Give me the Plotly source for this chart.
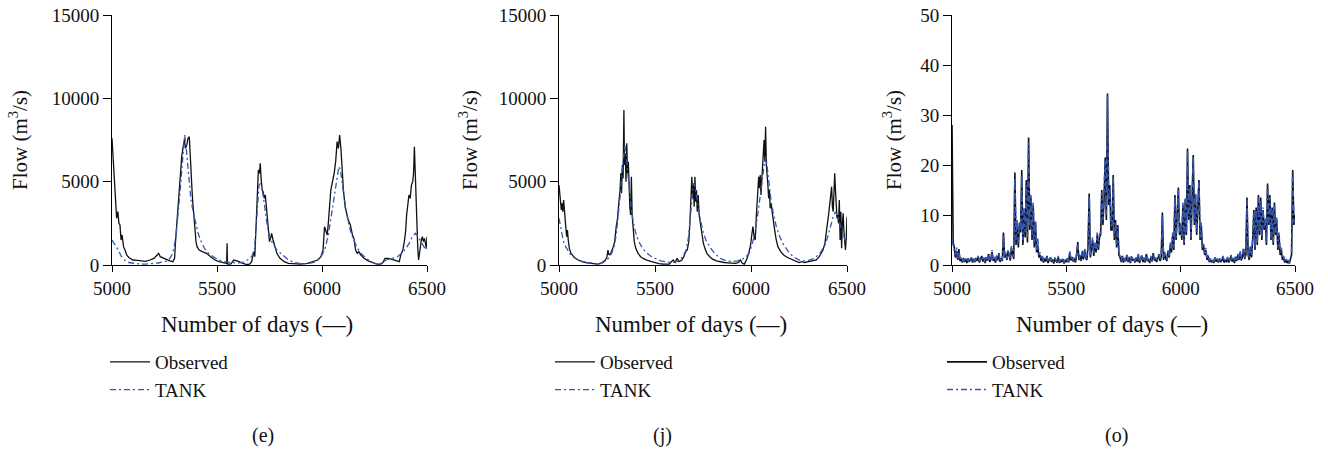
import plotly.graph_objects as go

# ---------------- Panel (e) ----------------
e_obs_days = [5000, 5005, 5012, 5018, 5022, 5028, 5033, 5038, 5043, 5048, 5055, 5062, 5070, 5080, 5090,
              5100, 5120, 5140, 5160, 5180, 5200, 5215, 5222, 5230, 5245, 5260, 5275, 5290, 5298, 5303,
              5310, 5318, 5325, 5332, 5340, 5345, 5350, 5356, 5362, 5368, 5373, 5377, 5381, 5385, 5390,
              5395, 5400, 5405, 5415, 5430, 5450, 5470, 5490, 5510, 5530, 5546, 5548, 5550, 5565, 5580,
              5595, 5610, 5625, 5640, 5655, 5665, 5675, 5680, 5686, 5692, 5697, 5702, 5706, 5710, 5715,
              5720, 5725, 5730, 5735, 5740, 5745, 5750, 5755, 5760, 5767, 5775, 5785, 5800, 5820, 5840,
              5870, 5900, 5930, 5960, 5980, 5995, 6005, 6012, 6018, 6025, 6030, 6036, 6042, 6050, 6058,
              6065, 6072, 6078, 6084, 6090, 6096, 6102, 6110, 6118, 6125, 6135, 6145, 6152, 6160, 6168,
              6175, 6185, 6200, 6220, 6240, 6260, 6280, 6290, 6300, 6315, 6330, 6345, 6360, 6368, 6375,
              6385, 6392, 6398, 6403, 6408, 6414, 6420, 6426, 6432, 6436, 6440, 6444, 6448, 6452, 6456,
              6460, 6464, 6468, 6473, 6478, 6483, 6488, 6493, 6497, 6500]
e_obs_vals = [7600, 6500, 5000, 3500, 2800, 3200, 2500, 2400, 1500, 1800, 1100, 900, 600, 450, 350,
              300, 280, 250, 220, 300, 400, 600, 700, 500, 400, 300, 250, 200, 400, 1500,
              2800, 4000, 5000, 6500, 7200, 7500, 7000, 7200, 7600, 7700, 6500, 5000, 4500, 3700, 2800,
              1900, 1400, 1100, 900, 800, 700, 500, 300, 200, 150, 100, 1300, 50, 50, 300,
              250, 150, 100, 30, 50, 200, 800, 500, 2500, 4500, 5700, 5500, 6100, 5200, 4500,
              4400, 4000, 4200, 3500, 2500, 1800, 1400, 1600, 1900, 1500, 1100, 700, 400, 200, 100,
              80, 50, 100, 200, 300, 500, 900, 2300, 2100, 1800, 2500, 3500, 4500, 5000, 5500,
              6200, 7400, 7000, 7800, 7000, 5500, 4500, 3500, 3000, 2700, 2400, 1800, 1600, 900, 700,
              800, 600, 400, 250, 150, 50, 50, 150, 400, 400, 350, 300, 250, 200, 600,
              900, 1400, 2000, 3000, 3800, 4200, 4000, 4800, 5000, 5500, 7100, 5500, 3500, 2000, 1000,
              300, 800, 1300, 1500, 1700, 1400, 1600, 1300, 1000, 1700]

e_tank_days = [5000, 5015, 5030, 5045, 5060, 5080, 5100, 5130, 5160, 5190, 5220, 5250, 5270, 5285, 5295,
               5305, 5315, 5325, 5333, 5340, 5346, 5352, 5360, 5368, 5376, 5385, 5395, 5410, 5425, 5440,
               5460, 5480, 5500, 5530, 5560, 5590, 5620, 5645, 5665, 5678, 5686, 5693, 5700, 5708, 5716,
               5724, 5732, 5740, 5750, 5765, 5785, 5810, 5840, 5870, 5900, 5930, 5960, 5985, 6000, 6015,
               6030, 6045, 6058, 6070, 6080, 6088, 6096, 6105, 6115, 6130, 6145, 6165, 6185, 6210, 6240,
               6265, 6285, 6305, 6330, 6355, 6380, 6400, 6415, 6430, 6445, 6458, 6470, 6485, 6495, 6500]
e_tank_vals = [1500, 1200, 900, 500, 300, 150, 100, 60, 50, 80, 120, 200, 300, 600, 1000,
               1800, 3000, 4500, 5800, 7000, 7800, 7200, 6200, 5000, 3900, 3300, 2700, 1900, 1400, 1000,
               700, 500, 350, 200, 150, 120, 150, 300, 500, 900, 2200, 3800, 4800, 4900, 4500,
               3800, 3000, 2300, 1700, 1300, 900, 600, 300, 150, 80, 80, 150, 350, 600, 1000,
               1800, 3000, 4200, 5300, 5900, 5700, 5000, 4000, 3200, 2300, 1700, 1100, 700, 400, 150,
               50, 100, 300, 400, 450, 700, 1000, 1300, 1700, 1900, 1700, 1400, 1100, 900, 1200]

# ---------------- Panel (j) ----------------
j_obs_days = [5000, 5004, 5008, 5012, 5016, 5020, 5024, 5028, 5032, 5036, 5040, 5044, 5048, 5054, 5062,
              5072, 5085, 5100, 5120, 5140, 5160, 5180, 5200, 5215, 5230, 5242, 5250, 5255, 5260, 5270,
              5280, 5290, 5298, 5305, 5312, 5318, 5322, 5326, 5330, 5334, 5338, 5341, 5345, 5349, 5353,
              5357, 5361, 5365, 5369, 5373, 5377, 5381, 5386, 5392, 5400, 5412, 5425, 5440, 5460, 5480,
              5500, 5520, 5540, 5560, 5575, 5585, 5595, 5605, 5615, 5625, 5640, 5650, 5660, 5668, 5676,
              5682, 5688, 5692, 5696, 5700, 5704, 5708, 5712, 5716, 5720, 5725, 5730, 5736, 5744, 5752,
              5760, 5770, 5785, 5800, 5820, 5840, 5860, 5880, 5900, 5920, 5935, 5945, 5955, 5965, 5972,
              5980, 5990, 5998, 6004, 6010, 6016, 6022, 6028, 6034, 6040, 6044, 6048, 6052, 6056, 6060,
              6064, 6068, 6072, 6076, 6080, 6084, 6088, 6092, 6096, 6100, 6105, 6110, 6116, 6122, 6130,
              6140, 6155, 6170, 6190, 6210, 6230, 6250, 6265, 6280, 6300, 6320, 6340, 6355, 6365, 6375,
              6385, 6392, 6398, 6404, 6410, 6415, 6420, 6424, 6428, 6432, 6436, 6440, 6444, 6448, 6452,
              6456, 6460, 6464, 6468, 6472, 6476, 6480, 6484, 6488, 6492, 6496, 6500]
j_obs_vals = [4800, 4200, 4000, 3300, 3700, 3200, 3900, 3100, 2800, 2200, 1700, 2100, 1500, 1000, 700,
              550, 400, 300, 200, 150, 100, 80, 50, 80, 200, 300, 500, 900, 600, 700,
              1000, 1400, 2300, 2800, 3800, 4500, 5500, 4300, 6000, 5200, 9300, 6000, 6700, 5000, 7300,
              5500, 6200, 4600, 3500, 3000, 5300, 3000, 2000, 1400, 1000, 700, 500, 380, 280, 200,
              120, 80, 60, 40, 50, 200, 300, 150, 400, 200, 300, 500, 800, 900, 1400,
              2600, 3800, 5300, 4000, 4800, 3500, 5300, 3800, 4500, 3200, 4200, 3000, 2500, 1800, 1300,
              1000, 700, 500, 350, 250, 180, 150, 130, 120, 100, 150, 300, 100, 50, 200,
              400, 800, 1200, 1800, 2300, 1700, 1500, 3000, 4200, 5300, 4600, 5400, 4200, 5000, 6000,
              6500, 7500, 6200, 8300, 6000, 5500, 4800, 4000, 4500, 3400, 3700, 3200, 2800, 2200, 1600,
              1100, 800, 600, 450, 350, 250, 150, 200, 150, 200, 250, 300, 500, 700, 900,
              1300, 1800, 2500, 3000, 3600, 4200, 4700, 3500, 3200, 4300, 5500, 4500, 3800, 2800, 3000,
              2500, 3900, 1500, 3200, 1000, 2500, 3100, 2000, 1500, 900, 1600, 2900]

j_tank_days = [5000, 5010, 5020, 5030, 5040, 5055, 5070, 5090, 5110, 5140, 5170, 5200, 5225, 5250, 5270,
               5285, 5298, 5310, 5320, 5330, 5338, 5343, 5350, 5358, 5366, 5375, 5385, 5398, 5412, 5430,
               5450, 5475, 5500, 5530, 5560, 5590, 5620, 5645, 5662, 5675, 5685, 5693, 5700, 5707, 5715,
               5725, 5735, 5748, 5765, 5785, 5810, 5840, 5870, 5900, 5930, 5955, 5975, 5990, 6005, 6020,
               6035, 6050, 6062, 6072, 6078, 6086, 6095, 6105, 6118, 6132, 6150, 6170, 6195, 6220, 6250,
               6280, 6310, 6340, 6365, 6385, 6400, 6415, 6428, 6440, 6452, 6465, 6478, 6490, 6500]
j_tank_vals = [2800, 2100, 1600, 1200, 1000, 700, 500, 350, 250, 150, 100, 80, 120, 300, 600,
               1000, 1800, 3000, 4300, 5800, 7000, 7200, 6500, 5500, 4400, 3500, 2700, 2000, 1500, 1100,
               800, 550, 400, 250, 180, 150, 250, 500, 900, 1700, 3000, 4200, 4900, 4800, 4300,
               3500, 2800, 2100, 1500, 1100, 700, 400, 250, 200, 250, 350, 500, 700, 1200, 1900,
               3000, 4300, 5500, 6300, 6500, 5700, 4700, 3800, 3000, 2300, 1700, 1200, 800, 500, 300,
               250, 300, 500, 800, 1200, 1700, 2300, 2900, 3200, 2900, 2400, 1900, 1500, 1300]

# ---------------- Panel (o) ----------------
o_days = list(range(5000, 6501, 5))
o_obs_vals = [
    28, 4.5, 3.5, 1.5, 2.8, 1.0, 3.2, 0.8, 1.2, 0.5, 1.4, 0.6, 1.1, 0.4, 1.3, 0.7, 0.9, 1.5, 0.5, 1.2,
    0.6, 1.4, 0.8, 1.6, 0.5, 1.0, 1.8, 0.7, 1.2, 0.4, 1.5, 0.9, 2.2, 0.6, 1.1, 2.6, 0.8, 1.3, 0.5, 1.7,
    0.9, 2.4, 0.6, 1.3, 0.8, 6.5, 1.5, 2.2, 1.0, 2.8, 1.6, 0.9, 3.4, 2.0, 1.2, 18.5, 4.0, 8.5, 3.5, 8.0,
    6.5, 19.0, 4.0, 10.5, 5.5, 17.0, 4.5, 25.5, 7.0, 13.5, 5.0, 12.0, 3.5, 8.5, 2.5, 4.0, 1.5, 2.0, 0.8, 1.6,
    0.5, 1.2, 0.7, 1.8, 0.4, 1.0, 1.5, 0.6, 1.1, 0.3, 1.3, 0.8, 0.5, 1.6, 0.4, 1.0, 0.6, 1.2, 0.3, 0.9,
    0.6, 1.3, 0.5, 2.5, 0.9, 1.6, 0.7, 1.2, 0.5, 2.0, 4.6, 1.0, 1.8, 0.8, 2.6, 1.1, 3.0, 1.4, 1.0, 4.0,
    14.3, 1.5, 3.0, 5.0, 1.8, 4.0, 2.5, 6.0, 3.0, 5.5, 6.0, 15.0, 8.0, 13.0, 21.5, 9.0, 34.3, 12.0, 16.0, 7.0,
    7.0, 18.0, 5.0, 9.0, 3.5, 8.0, 2.0, 1.5, 0.6, 1.8, 0.5, 1.2, 0.8, 2.0, 0.6, 1.4, 0.4, 1.7, 0.9, 1.2,
    0.5, 1.5, 0.7, 2.0, 0.4, 1.1, 1.8, 0.6, 1.3, 0.5, 2.2, 0.8, 1.0, 0.4, 1.6, 0.7, 2.4, 0.9, 1.3, 0.6,
    1.2, 2.0, 0.8, 1.5, 10.5, 1.0, 2.5, 1.2, 0.8, 2.8, 1.5, 4.0, 2.5, 6.0, 3.0, 14.0, 5.0, 9.0, 15.5, 6.0,
    8.0, 5.0, 12.0, 4.0, 13.0, 6.0, 23.3, 9.0, 16.0, 5.0, 12.0, 22.0, 8.0, 14.0, 6.0, 11.0, 17.0, 5.0, 8.0, 3.0,
    4.0, 2.0, 3.0, 1.0, 1.8, 0.6, 1.2, 0.5, 1.0, 0.4, 1.5, 0.7, 1.1, 0.5, 1.3, 0.6, 0.9, 1.6, 0.5, 1.0,
    0.6, 1.4, 0.5, 1.0, 1.8, 0.7, 1.2, 0.4, 1.5, 0.8, 2.0, 1.0, 2.5, 0.9, 1.6, 3.2, 1.2, 2.0, 13.5, 2.0,
    1.0, 3.5, 1.5, 5.0, 11.0, 3.0, 11.5, 4.0, 14.0, 6.0, 13.5, 5.0, 11.0, 7.0, 9.0, 4.0, 16.3, 8.0, 14.0, 5.0,
    11.5, 4.0, 12.5, 6.0, 9.0, 3.0, 6.0, 2.0, 3.0, 1.0, 1.5, 0.5, 1.0, 0.4, 0.8, 0.3, 1.2, 2.0, 19.0, 8.0,
    10.0]
o_tank_vals = [
    5.0, 4.0, 3.0, 2.0, 3.5, 1.2, 2.6, 1.0, 1.5, 0.7, 1.2, 0.8, 1.4, 0.6, 1.0, 0.9, 1.2, 1.3, 0.7, 1.5,
    0.8, 1.2, 1.0, 1.9, 0.7, 1.3, 1.6, 0.9, 1.5, 0.6, 1.8, 1.1, 2.0, 0.8, 1.4, 3.0, 1.0, 1.6, 0.7, 1.9,
    1.1, 2.2, 0.8, 1.6, 1.0, 6.0, 1.8, 2.6, 1.3, 3.0, 1.9, 1.2, 3.8, 2.4, 1.6, 17.5, 5.0, 9.0, 4.5, 8.8,
    7.0, 18.0, 5.0, 11.5, 6.5, 16.0, 5.5, 24.5, 8.0, 14.0, 6.0, 12.5, 4.5, 9.0, 3.0, 5.5, 2.0, 2.5, 1.2, 1.8,
    0.8, 1.4, 0.9, 1.6, 0.6, 1.2, 1.7, 0.8, 1.3, 0.6, 1.5, 1.0, 0.7, 1.8, 0.6, 1.2, 0.8, 1.4, 0.5, 1.1,
    0.7, 1.5, 0.6, 2.8, 1.1, 1.8, 0.9, 1.5, 0.7, 2.3, 4.2, 1.2, 2.0, 1.0, 2.9, 1.4, 3.3, 1.7, 1.2, 3.6,
    13.8, 2.0, 3.5, 5.5, 2.2, 4.5, 3.0, 6.5, 3.5, 6.0, 6.5, 14.5, 9.0, 13.5, 21.0, 10.0, 34.0, 13.0, 15.0, 8.0,
    7.5, 17.5, 5.5, 8.5, 4.0, 7.5, 2.5, 1.8, 0.8, 2.0, 0.7, 1.4, 1.0, 2.2, 0.8, 1.6, 0.6, 1.9, 1.1, 1.4,
    0.7, 1.7, 0.9, 2.2, 0.6, 1.3, 2.0, 0.8, 1.5, 0.7, 2.0, 1.0, 1.2, 0.6, 1.8, 0.9, 2.1, 1.1, 1.5, 0.8,
    1.4, 2.2, 1.0, 1.7, 10.0, 1.3, 2.8, 1.5, 1.0, 3.2, 1.8, 4.5, 3.0, 6.5, 3.5, 13.5, 5.5, 9.5, 15.0, 6.5,
    8.5, 5.5, 12.5, 4.5, 13.5, 6.5, 23.0, 9.5, 15.5, 5.5, 12.5, 21.5, 8.5, 14.5, 6.5, 11.5, 16.5, 5.5, 8.5, 3.5,
    4.5, 2.3, 3.4, 1.2, 2.0, 0.8, 1.4, 0.7, 1.2, 0.6, 1.7, 0.9, 1.3, 0.7, 1.5, 0.8, 1.1, 1.8, 0.7, 1.2,
    0.8, 1.6, 0.7, 1.2, 2.0, 0.9, 1.4, 0.6, 1.7, 1.0, 2.2, 1.2, 2.8, 1.1, 1.8, 3.5, 1.4, 2.3, 13.0, 2.5,
    1.3, 4.0, 2.0, 5.5, 10.5, 3.5, 11.0, 4.5, 13.5, 6.5, 13.0, 5.5, 11.5, 7.5, 9.5, 4.5, 16.0, 8.5, 13.5, 5.5,
    11.0, 4.5, 12.0, 6.5, 9.5, 3.5, 6.5, 2.5, 3.5, 1.3, 1.8, 0.7, 1.2, 0.6, 1.0, 0.5, 1.4, 2.3, 18.5, 8.5,
    9.5]

x_ticks = [5000, 5500, 6000, 6500]
y_ticks_big = [0, 5000, 10000, 15000]
y_ticks_small = [0, 10, 20, 30, 40, 50]
panel_labels = ["(e)", "(j)", "(o)"]
series_names = ["Observed", "TANK"]

# ---------------- Layout constants (pixels) ----------------
W, H = 1328, 449
FONT = "Liberation Serif"
FS_TICK = 19
FS_LEG = 19
FS_XT = 23
FS_YT = 21
FS_LAB = 20
BLACK = "#111111"
BLUE = "#3356b8"
DASH = "6px,3px,2px,3px"

def px_x(p):
    return p / W

def px_y(p):
    return (H - p) / H

panels = [
    dict(xl=112, xr=427, obs=(e_obs_days, e_obs_vals), tank=(e_tank_days, e_tank_vals),
         yr=[0, 15000], yt=y_ticks_big, ytitle_x=18, xtitle_x=257, label_x=263, leg_x=105, ow=1.3, tw=1.3),
    dict(xl=559, xr=847, obs=(j_obs_days, j_obs_vals), tank=(j_tank_days, j_tank_vals),
         yr=[0, 15000], yt=y_ticks_big, ytitle_x=468, xtitle_x=691, label_x=662, leg_x=550, ow=1.3, tw=1.3),
    dict(xl=952, xr=1295, obs=(o_days, o_obs_vals), tank=(o_days, o_tank_vals),
         yr=[0, 50], yt=y_ticks_small, ytitle_x=892, xtitle_x=1112, label_x=1116, leg_x=942, ow=1.6, tw=1.6),
]

fig = go.Figure()
annotations = []
for i, p in enumerate(panels):
    n = "" if i == 0 else str(i + 1)
    xa, ya = "x" + n, "y" + n
    leg = "legend" + n
    fig.add_trace(go.Scatter(x=p["obs"][0], y=p["obs"][1], mode="lines", name=series_names[0],
                             line=dict(color=BLACK, width=p["ow"]), xaxis=xa, yaxis=ya, legend=leg))
    fig.add_trace(go.Scatter(x=p["tank"][0], y=p["tank"][1], mode="lines", name=series_names[1],
                             line=dict(color=BLUE, width=p["tw"], dash=DASH), xaxis=xa, yaxis=ya, legend=leg))
    axcommon = dict(showgrid=False, zeroline=False, showline=True, linecolor="black", linewidth=1,
                    ticks="outside", tickcolor="black", tickwidth=1, automargin=False,
                    tickfont=dict(family=FONT, size=FS_TICK, color="#111"))
    fig.update_layout(**{
        "xaxis" + n: dict(domain=[px_x(p["xl"]), px_x(p["xr"])], range=[5000, 6500], tickvals=x_ticks,
                          ticklen=6, anchor=ya, **axcommon),
        "yaxis" + n: dict(domain=[px_y(265), px_y(15)], range=p["yr"], tickvals=p["yt"], tickformat="d",
                          ticklen=8, anchor=xa, **axcommon),
        leg: dict(x=px_x(p["leg_x"]), y=px_y(343), xanchor="left", yanchor="top",
                  font=dict(family=FONT, size=FS_LEG, color="#111"), bgcolor="rgba(0,0,0,0)",
                  tracegroupgap=0, itemwidth=40),
    })
    annotations.append(dict(text="Flow (m<sup>3</sup>/s)", x=px_x(p["ytitle_x"]), y=px_y(140),
                            xref="paper", yref="paper", showarrow=False, textangle=-90,
                            xanchor="center", yanchor="middle",
                            font=dict(family=FONT, size=FS_YT, color="#111")))
    annotations.append(dict(text="Number of days (—)", x=px_x(p["xtitle_x"]), y=px_y(324),
                            xref="paper", yref="paper", showarrow=False,
                            xanchor="center", yanchor="middle",
                            font=dict(family=FONT, size=FS_XT, color="#111")))
    annotations.append(dict(text=panel_labels[i], x=px_x(p["label_x"]), y=px_y(435),
                            xref="paper", yref="paper", showarrow=False,
                            xanchor="center", yanchor="middle",
                            font=dict(family=FONT, size=FS_LAB, color="#111")))

fig.update_layout(width=W, height=H, margin=dict(l=0, r=0, t=0, b=0, autoexpand=False),
                  paper_bgcolor="white", plot_bgcolor="white", annotations=annotations,
                  showlegend=True)

fig.write_html("out.html")
